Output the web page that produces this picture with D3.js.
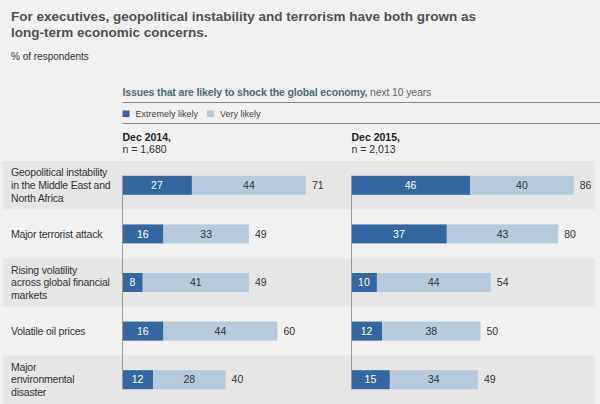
<!DOCTYPE html>
<html>
<head>
<meta charset="utf-8">
<script src="https://cdn.jsdelivr.net/npm/d3@7"></script>
<style>
  body { margin: 0; background: #f1f1f1; }
  svg { font-family: "Liberation Sans", Arial, sans-serif; display: block; }
</style>
</head>
<body>
<div id="chart"></div>
<script>
//chart data
var categories = [
  ["Geopolitical instability", "in the Middle East and", "North Africa"],
  ["Major terrorist attack"],
  ["Rising volatility", "across global financial", "markets"],
  ["Volatile oil prices"],
  ["Major", "environmental", "disaster"]
];
var extreme2014 = [27, 16, 8, 16, 12];
var very2014 = [44, 33, 41, 44, 28];
var total2014 = [71, 49, 49, 60, 40];
var extreme2015 = [46, 37, 10, 12, 15];
var very2015 = [40, 43, 44, 38, 34];
var total2015 = [86, 80, 54, 50, 49];
var panelTitles = [["Dec 2014,", "n = 1,680"], ["Dec 2015,", "n = 2,013"]];
var legendLabels = ["Extremely likely", "Very likely"];

var width = 600, height = 404;
var dark = "#3466a2", light = "#b6cadc";

var svg = d3.select("#chart")
  .append("svg")
  .attr("width", width)
  .attr("height", height);

svg.append("rect").attr("width", width).attr("height", height).attr("fill", "#f1f1f1");

//title
svg.append("text")
  .attr("x", 11).attr("y", 20.5)
  .attr("fill", "#505050").attr("font-size", 13.5).attr("font-weight", "bold")
  .selectAll("tspan")
  .data(["For executives, geopolitical instability and terrorism have both grown as", "long-term economic concerns."])
  .enter().append("tspan")
  .attr("x", 11).attr("dy", function(d, i) { return i ? 16.5 : 0; })
  .text(function(d) { return d; });

svg.append("text")
  .attr("x", 11).attr("y", 60)
  .attr("fill", "#333").attr("font-size", 10)
  .text("% of respondents");

//chart heading
var head = svg.append("text")
  .attr("x", 122.5).attr("y", 96)
  .attr("font-size", 10.5).attr("letter-spacing", -0.15);
head.append("tspan").attr("fill", "#4c6a7a").attr("font-weight", "bold")
  .text("Issues that are likely to shock the global economy,");
head.append("tspan").attr("fill", "#666").text(" next 10 years");

svg.append("line").attr("x1", 122.5).attr("x2", 600).attr("y1", 102.5).attr("y2", 102.5)
  .attr("stroke", "#888");
svg.append("line").attr("x1", 122.5).attr("x2", 600).attr("y1", 123.5).attr("y2", 123.5)
  .attr("stroke", "#888");

//legend
var legend = svg.selectAll(".legend")
  .data(legendLabels)
  .enter().append("g")
  .attr("transform", function(d, i) { return "translate(" + [122.5, 207][i] + ",110.5)"; });
legend.append("rect").attr("width", 7).attr("height", 6.5)
  .attr("fill", function(d, i) { return i ? light : dark; });
legend.append("text").attr("x", 13).attr("y", 6.3)
  .attr("font-size", 9).attr("fill", "#444")
  .text(function(d) { return d; });

//scales
var y = d3.scaleBand()
  .domain(d3.range(categories.length))
  .range([161, 404]);

var x = d3.scaleLinear().domain([0, 100]).range([0, 259]);
var barH = 19;

//row bands
svg.selectAll(".band")
  .data(categories)
  .enter().append("rect")
  .attr("x", 3).attr("width", 592)
  .attr("y", function(d, i) { return y(i); })
  .attr("height", y.bandwidth())
  .attr("fill", function(d, i) { return i % 2 ? "#f1f1f1" : "#e6e6e6"; });

//category labels
categories.forEach(function(lines, i) {
  var cy = y(i) + y.bandwidth() / 2;
  svg.append("text")
    .attr("font-size", 10.5).attr("fill", "#333").attr("letter-spacing", -0.2)
    .selectAll("tspan")
    .data(lines)
    .enter().append("tspan")
    .attr("x", 11)
    .attr("y", function(d, j) { return cy + (j - (lines.length - 1) / 2) * 12.7 + 3.7; })
    .text(function(d) { return d; });
});

//panels
var panels = [
  { x0: 122, extreme: extreme2014, very: very2014, total: total2014, title: panelTitles[0] },
  { x0: 351, extreme: extreme2015, very: very2015, total: total2015, title: panelTitles[1] }
];

panels.forEach(function(p) {
  var g = svg.append("g").attr("transform", "translate(" + p.x0 + ",0)");

  g.append("text").attr("x", 0.5).attr("y", 141)
    .attr("font-size", 10.5).attr("font-weight", "bold").attr("fill", "#222")
    .text(p.title[0]);
  g.append("text").attr("x", 0.5).attr("y", 153)
    .attr("font-size", 10.5).attr("fill", "#333")
    .text(p.title[1]);

  var rows = g.selectAll(".row")
    .data(d3.range(categories.length))
    .enter().append("g")
    .attr("transform", function(i) { return "translate(0," + (y(i) + (y.bandwidth() - barH) / 2) + ")"; });

  rows.append("rect")
    .attr("x", 0).attr("height", barH)
    .attr("width", function(i) { return x(p.extreme[i]); })
    .attr("fill", dark);

  rows.append("rect")
    .attr("x", function(i) { return x(p.extreme[i]); })
    .attr("height", barH)
    .attr("width", function(i) { return x(p.very[i]); })
    .attr("fill", light);

  rows.append("text")
    .attr("x", function(i) { return x(p.extreme[i] / 2); })
    .attr("y", barH / 2 + 3.8)
    .attr("text-anchor", "middle").attr("font-size", 10.5).attr("fill", "#fff")
    .text(function(i) { return p.extreme[i]; });

  rows.append("text")
    .attr("x", function(i) { return x(p.extreme[i] + p.very[i] / 2); })
    .attr("y", barH / 2 + 3.8)
    .attr("text-anchor", "middle").attr("font-size", 10.5).attr("fill", "#333")
    .text(function(i) { return p.very[i]; });

  rows.append("text")
    .attr("x", function(i) { return x(p.extreme[i] + p.very[i]) + 6; })
    .attr("y", barH / 2 + 3.8)
    .attr("font-size", 10.5).attr("fill", "#333")
    .text(function(i) { return p.total[i]; });

  //axis line
  var top = y(0) + (y.bandwidth() - barH) / 2;
  var bottom = y(categories.length - 1) + (y.bandwidth() + barH) / 2;
  g.append("line")
    .attr("x1", 0.5).attr("x2", 0.5)
    .attr("y1", top).attr("y2", bottom)
    .attr("stroke", "#999");
});
</script>
</body>
</html>
